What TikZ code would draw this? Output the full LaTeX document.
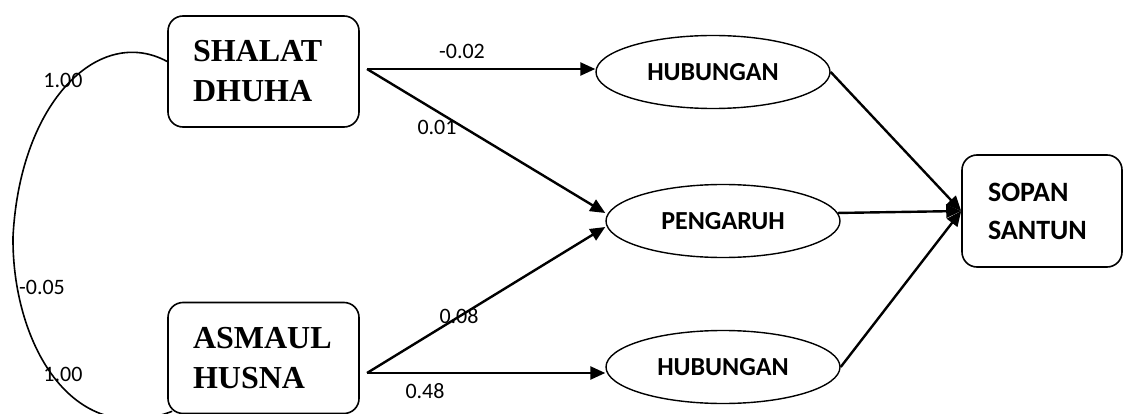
\documentclass[tikz,border=0pt]{standalone}
\usepackage{fontspec}
\setmainfont{Carlito}
\newfontfamily\boxfont{Liberation Serif}
\usetikzlibrary{arrows.meta,shapes.geometric}

\tikzset{
  varbox/.style={draw, line width=1.6pt, rounded corners=15pt,
    minimum width=191pt, minimum height=111pt, inner xsep=25pt,
    text width=141pt, align=left,
    font=\boxfont\bfseries\fontsize{32}{40}\selectfont},
  endbox/.style={draw, line width=1.6pt, rounded corners=15pt,
    minimum width=160pt, minimum height=112pt, inner xsep=26pt,
    text width=108pt, align=left,
    font=\bfseries\fontsize{28}{38}\selectfont},
  latent/.style={draw, ellipse, line width=1.4pt,
    minimum width=234pt, minimum height=73pt,
    font=\bfseries\fontsize{26}{30}\selectfont},
  effect/.style={line width=2.4pt, -{Triangle[length=15pt,width=13pt]}},
  coef/.style={font=\fontsize{22}{26}\selectfont, inner sep=0pt}
}

\begin{document}
\begin{tikzpicture}[x=1pt,y=-1pt]
  \useasboundingbox (0,0) rectangle (1123,414);

  % Observed variables
  \node[varbox] (shalat) at (263.5,71.5) {SHALAT\\DHUHA};
  \node[varbox] (asmaul) at (263.5,358) {ASMAUL\\HUSNA};
  \node[endbox] (sopan) at (1042,211) {SOPAN\\SANTUN};

  % Latent variables
  \node[latent] (hub1) at (713,72) {HUBUNGAN};
  \node[latent] (peng) at (723,221) {PENGARUH};
  \node[latent] (hub2) at (723,367) {HUBUNGAN};

  % Start points of the paths
  \coordinate (shalat out) at (367,69);
  \coordinate (asmaul out) at (367,373);

  % Correlation
  \draw[line width=1.6pt] ([yshift=10pt]shalat.west)
    .. controls (100,25) and (20,100) .. (13,237)
    .. controls (12,340) and (70,450) .. ([xshift=5pt,yshift=3pt]asmaul.south west);

  % Paths
  \draw[effect] (shalat out) -- (shalat out -| hub1.west);
  \draw[effect] (shalat out) -- ([yshift=8pt]peng.west);
  \draw[effect] (asmaul out) -- ([yshift=-6pt]peng.west);
  \draw[effect] (asmaul out) -- (asmaul out -| hub2.west);
  \draw[effect] (hub1.east) -- (sopan.west);
  \draw[effect] (peng.4) -- (sopan.west);
  \draw[effect] (hub2.east) -- (sopan.west);

  % Coefficients
  \node[coef] (var1) at (63,80) {1.00};
  \node[coef] (cov) at (42,287) {-0.05};
  \node[coef] (var2) at (63,374) {1.00};
  \node[coef] (c1) at (462,51) {-0.02};
  \node[coef] (c2) at (437,127) {0.01};
  \node[coef] (c3) at (459,316) {0.08};
  \node[coef] (c4) at (425,391) {0.48};
\end{tikzpicture}
\end{document}
